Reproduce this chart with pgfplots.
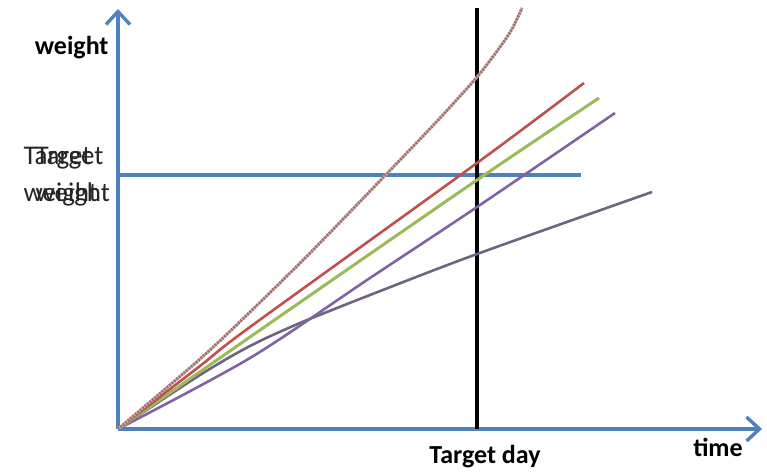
\documentclass[border=0pt]{standalone}
\usepackage{pgfplots}
\pgfplotsset{compat=1.18}
\usepackage{fontspec}
\setmainfont{Carlito}
\usetikzlibrary{arrows.meta}
\definecolor{axblue}{RGB}{79,129,189}
\definecolor{cred}{RGB}{192,80,77}
\definecolor{cgreen}{RGB}{155,187,89}
\definecolor{cpurple}{RGB}{128,100,162}
\definecolor{cgray}{RGB}{110,100,130}
\definecolor{cbrownbase}{RGB}{215,165,165}
\definecolor{cbrowndot}{RGB}{145,115,110}
\begin{document}
\begin{tikzpicture}
\begin{axis}[width=767pt,height=472pt,scale only axis,
  xmin=0,xmax=767,ymin=0,ymax=472,y dir=reverse,
  axis lines=none,clip=false]
\path (axis cs:0,0) rectangle (axis cs:767,472);
% axes
\addplot[axblue,line width=3.4pt,-{Straight Barb[length=13pt,width=24pt]}] coordinates {(118,429) (118,9)};
\addplot[axblue,line width=3.4pt,-{Straight Barb[length=13pt,width=24pt]}] coordinates {(118,429) (762,429)};
% target weight line
\addplot[axblue,line width=3.4pt] coordinates {(118,175) (581,175)};
% target day line
\addplot[black,line width=3.2pt] coordinates {(477,8) (477,429)};
% series
\addplot[cgray,line width=2.6pt,smooth] coordinates {(118,429) (200,375) (250,346) (300,323) (370,295) (477,254) (652,192)};
\addplot[cpurple,line width=2.6pt,smooth] coordinates {(118,429) (250,358) (370,278) (477,207) (615,113)};
\addplot[cgreen,line width=3pt,smooth] coordinates {(118,429) (250,337) (477,180) (599,98)};
\addplot[cred,line width=2.6pt,smooth] coordinates {(118,429) (200,366) (250,327) (477,163) (584,83)};
\addplot[cbrownbase,line width=2.8pt,smooth] coordinates {(118,429) (200,359) (250,312) (313,250) (400,160) (440,118) (477,77) (500,47) (512,29) (522,8)};
\addplot[cbrowndot,line width=2.8pt,smooth,dash pattern=on 1.6pt off 1.6pt] coordinates {(118,429) (200,359) (250,312) (313,250) (400,160) (440,118) (477,77) (500,47) (512,29) (522,8)};
% labels
\node[anchor=east,font=\fontsize{26}{30}\selectfont\bfseries] at (axis cs:112,48) {weight};
\node[anchor=west,font=\fontsize{27}{30}\selectfont,text=black!85] at (axis cs:20,158) {Target};
\node[anchor=west,font=\fontsize{27}{30}\selectfont,text=black!85] at (axis cs:32,158) {Target};
\node[anchor=west,font=\fontsize{27}{30}\selectfont,text=black!85] at (axis cs:20,194) {weight};
\node[anchor=west,font=\fontsize{27}{30}\selectfont,text=black!85] at (axis cs:32,194) {weight};
\node[font=\fontsize{26}{30}\selectfont\bfseries] at (axis cs:485,457) {Target day};
\node[font=\fontsize{26}{30}\selectfont\bfseries] at (axis cs:718,447) {time};
\end{axis}
\end{tikzpicture}
\end{document}
